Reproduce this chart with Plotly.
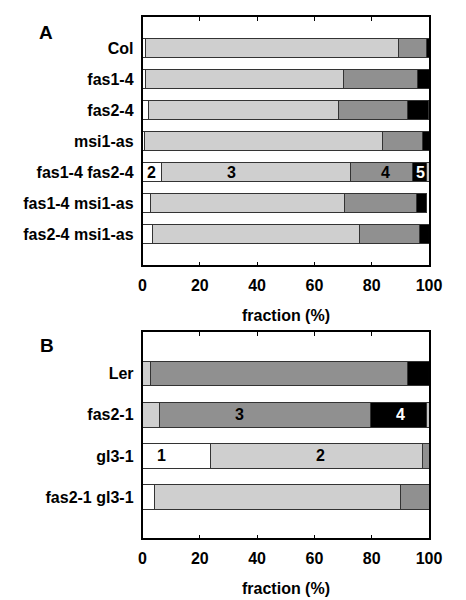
import plotly.graph_objects as go

# ---------------- data ----------------
cats_a = ["Col", "fas1-4", "fas2-4", "msi1-as", "fas1-4 fas2-4", "fas1-4 msi1-as", "fas2-4 msi1-as"]
a_white = [1.0, 1.0, 2.2, 0.8, 6.6, 2.7, 3.4]
a_light = [88.3, 69.1, 66.1, 82.9, 65.9, 67.7, 72.2]
a_dark = [10.0, 25.8, 24.1, 13.9, 21.7, 25.4, 21.0]
a_black = [0.7, 4.1, 7.3, 2.4, 5.1, 3.3, 3.4]
a_extra = [0.0, 0.0, 0.35, 0.0, 0.7, 0.0, 0.0]

cats_b = ["Ler", "fas2-1", "gl3-1", "fas2-1 gl3-1"]
b_white = [0.0, 0.0, 23.7, 4.1]
b_light = [2.7, 6.1, 74.0, 86.0]
b_dark = [89.9, 73.5, 2.3, 9.9]
b_black = [7.4, 19.6, 0.0, 0.0]
b_extra = [0.0, 0.8, 0.0, 0.0]

# segment number labels
lab_panel = ["A", "A", "A", "A", "B", "B", "B", "B"]
lab_cat = ["fas1-4 fas2-4"] * 4 + ["fas2-1", "fas2-1", "gl3-1", "gl3-1"]
lab_x = [3.3, 30.9, 84.9, 96.9, 33.7, 89.9, 6.5, 62.0]
lab_text = ["2", "3", "4", "5", "3", "4", "1", "2"]
lab_color = ["black", "black", "black", "white", "black", "white", "black", "black"]

x_ticks = [0, 20, 40, 60, 80, 100]
x_title = "fraction (%)"

# ---------------- figure ----------------
COLORS = ["#ffffff", "#cfcfcf", "#909090", "#000000", "#c4c4c4"]
FONT = "Liberation Sans, Arial, Helvetica, sans-serif"
FS = 16

fig = go.Figure()

def add_panel(cats, series, xa, ya, width):
    for vals, col in zip(series, COLORS):
        fig.add_trace(go.Bar(
            y=cats, x=vals, orientation="h", xaxis=xa, yaxis=ya,
            width=width, marker=dict(color=col, line=dict(color="#333333", width=1)),
            showlegend=False, hoverinfo="x+y",
        ))

add_panel(cats_a, [a_white, a_light, a_dark, a_black, a_extra], "x", "y", 0.62)
add_panel(cats_b, [b_white, b_light, b_dark, b_black, b_extra], "x2", "y2", 0.6)

xcommon = dict(
    range=[0, 100], tickvals=x_ticks, ticks="inside", ticklen=4, tickwidth=1,
    tickcolor="black", showline=True, linecolor="black", linewidth=1.5,
    mirror="ticks", showgrid=False, zeroline=False, automargin=False,
    tickfont=dict(family=FONT, size=FS, color="black", weight="bold"),
    ticklabelstandoff=5,
)
ycommon = dict(
    type="category", showline=True, linecolor="black", linewidth=1.5, mirror=True,
    showgrid=False, zeroline=False, ticks="", automargin=False,
    tickfont=dict(family=FONT, size=FS, color="black", weight="bold"),
    ticklabelstandoff=4,
)

fig.update_layout(
    width=466, height=600, autosize=False, margin=dict(l=0, r=0, t=0, b=0, pad=0),
    paper_bgcolor="white", plot_bgcolor="white", barmode="stack",
    xaxis=dict(domain=[0.3058, 0.9206], anchor="y", **xcommon),
    yaxis=dict(domain=[0.5578, 0.9717], anchor="x", range=[len(cats_a), -1], **ycommon),
    xaxis2=dict(domain=[0.3058, 0.9206], anchor="y2", **xcommon),
    yaxis2=dict(domain=[0.1028, 0.4462], anchor="x2", range=[len(cats_b), -1], **ycommon),
)

for p, c, xv, t, col in zip(lab_panel, lab_cat, lab_x, lab_text, lab_color):
    xr, yr = ("x", "y") if p == "A" else ("x2", "y2")
    fig.add_annotation(x=xv, y=c, xref=xr, yref=yr, text=t, showarrow=False,
                       xanchor="center", yanchor="middle",
                       font=dict(family=FONT, size=FS, color=col, weight="bold"))

for txt, yy in [(x_title, 1 - 315 / 600), (x_title, 1 - 588 / 600)]:
    fig.add_annotation(x=285.75 / 466, y=yy, xref="paper", yref="paper", text=txt,
                       showarrow=False, xanchor="center", yanchor="middle",
                       font=dict(family=FONT, size=FS, color="black", weight="bold"))

for txt, xx, yy in [("A", 46, 32), ("B", 47, 345)]:
    fig.add_annotation(x=xx / 466, y=1 - yy / 600, xref="paper", yref="paper", text=txt,
                       showarrow=False, xanchor="center", yanchor="middle",
                       font=dict(family=FONT, size=19, color="black", weight="bold"))

post = "document.body.style.margin='0';"
fig.write_html("out.html", config={"responsive": False}, post_script=post)
